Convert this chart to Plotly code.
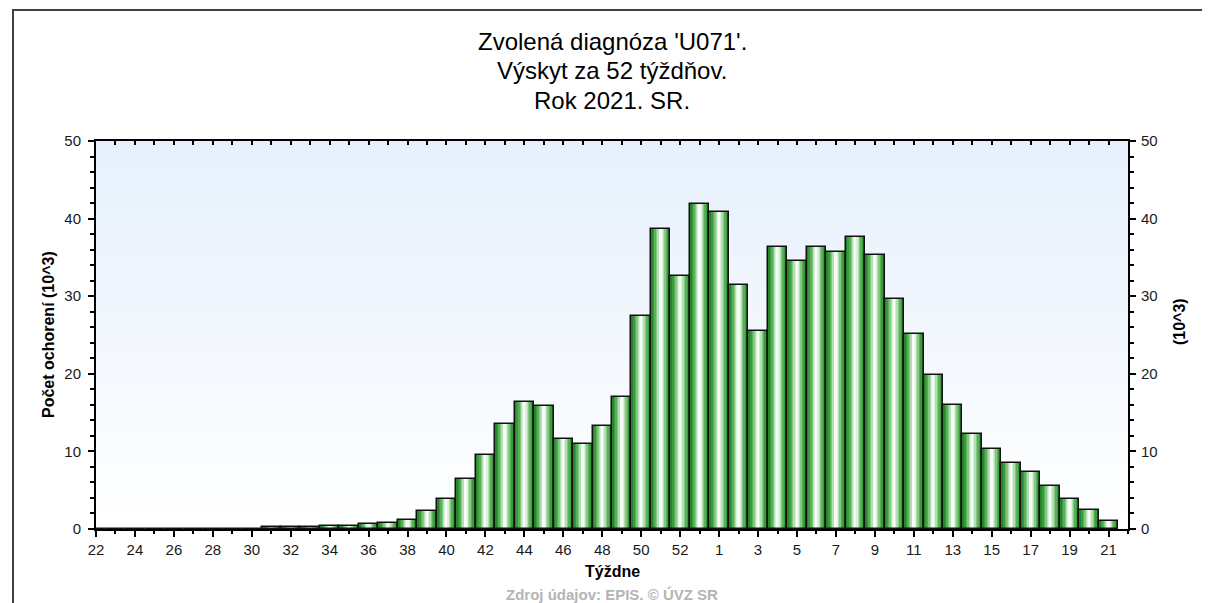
import plotly.graph_objects as go

# ---------------- data ----------------
week_labels = ["22", "23", "24", "25", "26", "27", "28", "29", "30", "31",
               "32", "33", "34", "35", "36", "37", "38", "39", "40", "41",
               "42", "43", "44", "45", "46", "47", "48", "49", "50", "51",
               "52", "53", "1", "2", "3", "4", "5", "6", "7", "8", "9",
               "10", "11", "12", "13", "14", "15", "16", "17", "18", "19",
               "20", "21"]
cases_k = [0, 0, 0, 0, 0, 0, 0, 0, 0, 0.2,
           0.2, 0.2, 0.4, 0.4, 0.6, 0.8, 1.1, 2.3, 3.9, 6.4,
           9.5, 13.5, 16.4, 15.9, 11.6, 11.0, 13.3, 17.0, 27.4, 38.6,
           32.6, 41.9, 40.9, 31.5, 25.5, 36.4, 34.6, 36.3, 35.7, 37.6, 35.3,
           29.7, 25.1, 19.9, 16.0, 12.3, 10.3, 8.5, 7.4, 5.6, 3.9,
           2.5, 1.0]

title_lines = ["Zvolená diagnóza 'U071'.", "Výskyt za 52 týždňov.", "Rok 2021. SR."]
y_title = "Počet ochorení (10^3)"
y2_title = "(10^3)"
x_title = "Týždne"
source_text = "Zdroj údajov: EPIS. © ÚVZ SR"

# ---------------- layout geometry (page pixels) ----------------
OFF = 8                      # default body margin of the html page
W, H = 1210 - OFF, 603 - OFF
PL, PR, PT, PB = 96, 1128, 141, 529   # plot area in page pixels
L, R, T, B = PL - OFF, PR - OFF, PT - OFF, PB - OFF
FONT = "Liberation Sans, Arial, sans-serif"

pos = list(range(len(week_labels)))
xmax = len(week_labels)


def px_x(p):
    return (p - PL) / (PR - PL)


def px_y(p):
    return (PB - p) / (PB - PT)


fig = go.Figure()

# cylinder-like gradient bars: overlaid bars of shrinking width
layers = [(1.0, "#26842a"), (0.82, "#3a9a3c"), (0.66, "#58b058"),
          (0.50, "#84c884"), (0.36, "#b4deb4"), (0.22, "#dcf1dc"),
          (0.10, "#f6fcf6")]
for wdt, col in layers:
    fig.add_trace(go.Bar(x=pos, y=cases_k, width=wdt,
                         marker=dict(color=col, line=dict(width=0)),
                         hoverinfo="skip"))
# outline on top
fig.add_trace(go.Bar(x=pos, y=cases_k, width=1.0, xaxis="x2", yaxis="y2",
                     marker=dict(color="rgba(0,0,0,0)",
                                 line=dict(color="#111111", width=1.5)),
                     hovertemplate="%{y}<extra></extra>"))

# background vertical gradient bands inside plot area
shapes = []
n = 50
top_rgb = (230, 240, 252)
bot_rgb = (255, 255, 255)
for i in range(n):
    f = i / (n - 1)
    r = round(bot_rgb[0] + (top_rgb[0] - bot_rgb[0]) * f)
    g = round(bot_rgb[1] + (top_rgb[1] - bot_rgb[1]) * f)
    b = round(bot_rgb[2] + (top_rgb[2] - bot_rgb[2]) * f)
    shapes.append(dict(type="rect", xref="x domain", yref="y domain",
                       x0=0, x1=1, y0=i / n, y1=(i + 1) / n + 0.002,
                       fillcolor=f"rgb({r},{g},{b})", line=dict(width=0),
                       layer="below"))
# outer frame
shapes.append(dict(type="rect", xref="paper", yref="paper",
                   x0=px_x(13), x1=px_x(1208), y0=px_y(640), y1=px_y(10),
                   line=dict(color="#404040", width=2), fillcolor="rgba(0,0,0,0)",
                   layer="above"))

annotations = []
for i, line in enumerate(title_lines):
    annotations.append(dict(text=line, xref="paper", yref="paper",
                            x=0.5, y=px_y(41 + 30 * i), xanchor="center",
                            yanchor="middle", showarrow=False,
                            font=dict(family=FONT, size=24, color="#000000")))
annotations.append(dict(text=y_title, xref="paper", yref="paper",
                        x=px_x(48), y=0.5, textangle=-90, showarrow=False,
                        xanchor="center", yanchor="middle",
                        font=dict(family=FONT, size=16, color="#000000",
                                  weight="bold")))
annotations.append(dict(text=y2_title, xref="paper", yref="paper",
                        x=px_x(1179), y=px_y(322), textangle=-90, showarrow=False,
                        xanchor="center", yanchor="middle",
                        font=dict(family=FONT, size=16, color="#000000",
                                  weight="bold")))
annotations.append(dict(text=x_title, xref="paper", yref="paper",
                        x=0.5, y=px_y(571), showarrow=False,
                        xanchor="center", yanchor="middle",
                        font=dict(family=FONT, size=16, color="#000000",
                                  weight="bold")))
annotations.append(dict(text=source_text, xref="paper", yref="paper",
                        x=0.5, y=px_y(594), showarrow=False,
                        xanchor="center", yanchor="middle",
                        font=dict(family=FONT, size=15, color="#b4b4b4",
                                  weight="bold")))

axis_common = dict(showgrid=False, zeroline=False, showline=True,
                   linecolor="#000000", linewidth=2, tickcolor="#000000",
                   tickfont=dict(family=FONT, size=15, color="#1a1a1a"))

fig.update_layout(
    width=W, height=H,
    margin=dict(l=L, r=W - R, t=T, b=H - B, pad=0),
    paper_bgcolor="#ffffff", plot_bgcolor="#ffffff",
    showlegend=False, barmode="overlay", bargap=0,
    shapes=shapes, annotations=annotations,
    xaxis=dict(range=[0, xmax], tickmode="array", tickvals=pos[::2],
               ticktext=week_labels[::2], ticks="outside", ticklen=6,
               tickwidth=1.5,
               minor=dict(tickmode="linear", tick0=0, dtick=1, ticks="outside",
                          ticklen=3, tickwidth=1.5, tickcolor="#000000"),
               fixedrange=True, **axis_common),
    xaxis2=dict(range=[0, xmax], overlaying="x", side="top",
                showticklabels=False, ticks="inside", ticklen=4, tickwidth=1.5,
                tickmode="linear", tick0=0, dtick=1, fixedrange=True,
                **axis_common),
    yaxis=dict(range=[0, 50], tickmode="linear", tick0=0, dtick=10,
               ticks="outside", ticklen=6, tickwidth=1.5, ticklabelstandoff=4,
               minor=dict(tickmode="linear", tick0=0, dtick=2, ticks="outside",
                          ticklen=4, tickwidth=1.5, tickcolor="#000000"),
               fixedrange=True, **axis_common),
    yaxis2=dict(range=[0, 50], overlaying="y", side="right",
                tickmode="linear", tick0=0, dtick=10,
                ticks="outside", ticklen=6, tickwidth=1.5, ticklabelstandoff=2,
                minor=dict(tickmode="linear", tick0=0, dtick=2, ticks="outside",
                           ticklen=4, tickwidth=1.5, tickcolor="#000000"),
                fixedrange=True, **axis_common),
)

fig.write_html("out.html")
